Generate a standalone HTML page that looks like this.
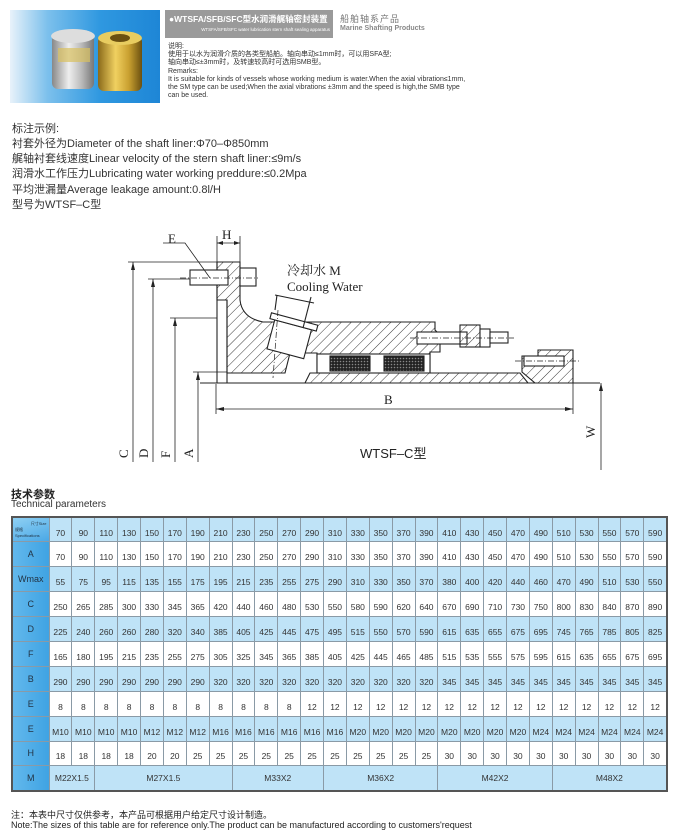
<!DOCTYPE html>
<html><head><meta charset="utf-8">
<style>
*{margin:0;padding:0;box-sizing:border-box}
body{width:680px;height:835px;background:#fff;position:relative;overflow:hidden;font-family:"Liberation Sans","Noto Sans CJK SC",sans-serif;color:#222}
.abs{position:absolute;white-space:nowrap}
.hdrimg{left:10px;top:10px;width:150px;height:93px;background:linear-gradient(90deg,#e8f2fa 0%,#7cc0ec 25%,#2f98e0 60%,#1e86d6 100%)}
.tbox{left:165px;top:10px;width:168px;height:28px;background:#9a9a9a;color:#fff}
.rem{left:168px;font-size:7px;line-height:8.2px;color:#333}
.ex{left:12px;font-size:11px;color:#333}
table{position:absolute;left:11px;top:516px;width:657px;border-collapse:collapse;border:2px solid #555;table-layout:fixed}
td{border:1px solid #8a9aa6;height:24.9px;font-size:8.5px;text-align:center;padding-top:6px;color:#333}
td.h{width:37px;background:linear-gradient(90deg,#5db5ea,#3fa4e4);font-size:9px;padding-top:0;color:#234}
tr.b td{background:#bfe3f7}
tr.b td.h,tr td.h{background:linear-gradient(90deg,#62b8ec,#3fa3e3)}
</style></head><body>

<div class="abs hdrimg">
  <svg width="150" height="93" viewBox="0 0 150 93">
    <defs>
      <linearGradient id="sv" x1="0" x2="1"><stop offset="0" stop-color="#888"/><stop offset=".4" stop-color="#eee"/><stop offset=".7" stop-color="#bbb"/><stop offset="1" stop-color="#777"/></linearGradient>
      <linearGradient id="gd" x1="0" x2="1"><stop offset="0" stop-color="#8a6a1a"/><stop offset=".4" stop-color="#f0d060"/><stop offset=".7" stop-color="#c9a030"/><stop offset="1" stop-color="#6b5010"/></linearGradient>
    </defs>
    <rect x="42" y="24" width="42" height="55" rx="6" fill="url(#sv)"/>
    <ellipse cx="63" cy="26" rx="22" ry="7" fill="#ddd"/>
    <rect x="48" y="38" width="32" height="14" fill="#d8c060" opacity=".7"/>
    <rect x="88" y="26" width="44" height="55" rx="6" fill="url(#gd)"/>
    <ellipse cx="110" cy="28" rx="22" ry="7" fill="#e8cc60"/>
    <ellipse cx="110" cy="28" rx="10" ry="4" fill="#6b5010"/>
  </svg>
</div>
<div class="abs tbox"><div style="position:absolute;left:4px;top:3px;font-size:8.5px;font-weight:bold">●WTSFA/SFB/SFC型水润滑艉轴密封装置</div><div style="position:absolute;right:3px;top:17px;font-size:4.5px">WTSFA/SFB/SFC water lubrication stern shaft sealing apparatus</div></div>
<div class="abs" style="left:340px;top:12px;font-size:9px;color:#777;letter-spacing:1px">船舶轴系产品</div>
<div class="abs" style="left:340px;top:25px;font-size:7px;color:#888;font-weight:bold">Marine Shafting Products</div>
<div class="abs rem" style="top:43px">说明:<br>使用于以水为润滑介质的各类型船舶。轴向串动≤1mm时，可以用SFA型;<br>轴向串动≤±3mm时，及转速较高时可选用SMB型。<br>Remarks:<br>It is suitable for kinds of vessels whose working medium is water.When the axial vibration≤1mm,<br>the SM type can be used;When the axial vibration≤ ±3mm and the speed is high,the SMB type<br>can be used.</div>

<div class="abs ex" style="top:120px">标注示例:</div>
<div class="abs ex" style="top:135px">衬套外径为Diameter of the shaft liner:Φ70–Φ850mm</div>
<div class="abs ex" style="top:150px">艉轴衬套线速度Linear velocity of the stern shaft liner:≤9m/s</div>
<div class="abs ex" style="top:165px">润滑水工作压力Lubricating water working preddure:≤0.2Mpa</div>
<div class="abs ex" style="top:181px">平均泄漏量Average leakage amount:0.8l/H</div>
<div class="abs ex" style="top:196px">型号为WTSF–C型</div>

<svg class="abs" style="left:0;top:0" width="680" height="480" viewBox="0 0 680 480">
<defs>
<pattern id="ht" width="7" height="7" patternUnits="userSpaceOnUse" patternTransform="rotate(45)"><line x1="0" y1="0" x2="0" y2="7" stroke="#222" stroke-width="0.9"/></pattern>
<pattern id="dots" width="3" height="3" patternUnits="userSpaceOnUse"><rect width="3" height="3" fill="#222"/><circle cx="1.5" cy="1.5" r="0.8" fill="#888"/></pattern>
</defs>
<g stroke="#222" stroke-width="1.1" fill="none">
<!-- flange -->
<path d="M217 262 H240 V300 Q242 318 263 322 H435 V330 L440 335 V352 H430 V373 H317 V353 H290 L285 373 H227 V300 H217 Z" fill="url(#ht)"/>
<line x1="217" y1="262" x2="217" y2="383"/>
<line x1="227" y1="300" x2="227" y2="383"/>
<!-- top bolt -->
<rect x="190" y="270" width="38" height="15" fill="#fff"/>
<rect x="240" y="268" width="16" height="18" fill="#fff"/>
<line x1="180" y1="278" x2="258" y2="278" stroke-dasharray="6,2,1,2" stroke-width=".7"/>
<!-- cooling pipe -->
<g transform="rotate(15 288 340)"><rect x="270" y="324" width="38" height="30" fill="#fff"/><rect x="265" y="318" width="48" height="6" fill="#fff"/></g>
<line x1="277" y1="295" x2="275" y2="310"/><line x1="311" y1="297" x2="303" y2="328"/>
<line x1="275" y1="295" x2="314" y2="303"/>
<line x1="278" y1="310" x2="273" y2="378" stroke-dasharray="6,2,1,2" stroke-width=".7"/>
<!-- packing -->
<rect x="317" y="354" width="113" height="19" fill="#fff"/>
<rect x="330" y="356" width="40" height="15" fill="url(#dots)"/>
<rect x="384" y="356" width="40" height="15" fill="url(#dots)"/>
<!-- sleeve -->
<path d="M310 373 H520 L528 383 H305 Z" fill="url(#ht)"/>
<line x1="200" y1="383" x2="600" y2="383"/>
<!-- right bolt -->
<rect x="417" y="332" width="50" height="12" fill="#fff"/>
<rect x="460" y="325" width="20" height="22" fill="url(#ht)"/>
<rect x="480" y="329" width="10" height="18" fill="#fff"/>
<rect x="490" y="332" width="18" height="11" fill="#fff"/>
<line x1="410" y1="338" x2="514" y2="338" stroke-dasharray="6,2,1,2" stroke-width=".7"/>
<!-- end ring -->
<path d="M522 356 H538 V350 H573 V383 H535 L522 372 Z" fill="url(#ht)"/>
<rect x="524" y="356" width="40" height="10" fill="#fff"/>
<line x1="515" y1="361" x2="580" y2="361" stroke-dasharray="6,2,1,2" stroke-width=".7"/>
<!-- dimensions -->
<g stroke-width=".8">
<line x1="128" y1="262" x2="217" y2="262"/><line x1="133" y1="262" x2="133" y2="462"/>
<line x1="148" y1="279" x2="190" y2="279"/><line x1="153" y1="279" x2="153" y2="462"/>
<line x1="170" y1="318" x2="217" y2="318"/><line x1="175" y1="318" x2="175" y2="462"/>
<line x1="193" y1="372" x2="227" y2="372"/><line x1="198" y1="372" x2="198" y2="462"/>
<line x1="216" y1="384" x2="216" y2="414"/><line x1="573" y1="383" x2="573" y2="414"/>
<line x1="216" y1="409" x2="573" y2="409"/>
<line x1="601" y1="383" x2="601" y2="470"/>
<line x1="217" y1="243" x2="240" y2="243"/><line x1="217" y1="236" x2="217" y2="262"/><line x1="240" y1="236" x2="240" y2="262"/>
<polyline points="163,243 185,243 210,278"/>
</g>
</g>
<g fill="#222">
<path d="M133 262 l-2 8 h4z M153 279 l-2 8 h4z M175 318 l-2 8 h4z M198 372 l-2 8 h4z M601 383 l-2 8 h4z"/>
<path d="M216 409 l8 -2 v4z M573 409 l-8 -2 v4z M217 243 l6 -2 v4z M240 243 l-6 -2 v4z"/>
</g>
<g font-family="Liberation Serif,Noto Serif CJK SC,serif" font-size="13" fill="#222">
<text x="168" y="243">E</text><text x="222" y="239">H</text>
<text x="287" y="275">冷却水 M</text><text x="287" y="291">Cooling Water</text>
<text x="384" y="404">B</text>
<text transform="translate(128 458) rotate(-90)">C</text>
<text transform="translate(148 458) rotate(-90)">D</text>
<text transform="translate(170 458) rotate(-90)">F</text>
<text transform="translate(193 458) rotate(-90)">A</text>
<text transform="translate(595 438) rotate(-90)">W</text>
</g>
<text x="360" y="458" font-family="Liberation Sans,Noto Sans CJK SC,sans-serif" font-size="13" fill="#222">WTSF–C型</text>
</svg>

<div class="abs" style="left:11px;top:486px;font-size:11px;font-weight:bold;color:#222">技术参数</div>
<div class="abs" style="left:11px;top:499px;font-size:10px;color:#333">Technical parameters</div>

<table>
<tr class="b"><td class="h" style="font-size:4px;text-align:left;padding:0 2px;background:linear-gradient(160deg,#8fd0f3,#4aa8e6)"><div style="text-align:right">尺寸Size</div>规格<br>Specifications</td><td>70</td><td>90</td><td>110</td><td>130</td><td>150</td><td>170</td><td>190</td><td>210</td><td>230</td><td>250</td><td>270</td><td>290</td><td>310</td><td>330</td><td>350</td><td>370</td><td>390</td><td>410</td><td>430</td><td>450</td><td>470</td><td>490</td><td>510</td><td>530</td><td>550</td><td>570</td><td>590</td></tr>
<tr><td class="h">A</td><td>70</td><td>90</td><td>110</td><td>130</td><td>150</td><td>170</td><td>190</td><td>210</td><td>230</td><td>250</td><td>270</td><td>290</td><td>310</td><td>330</td><td>350</td><td>370</td><td>390</td><td>410</td><td>430</td><td>450</td><td>470</td><td>490</td><td>510</td><td>530</td><td>550</td><td>570</td><td>590</td></tr>
<tr class="b"><td class="h">Wmax</td><td>55</td><td>75</td><td>95</td><td>115</td><td>135</td><td>155</td><td>175</td><td>195</td><td>215</td><td>235</td><td>255</td><td>275</td><td>290</td><td>310</td><td>330</td><td>350</td><td>370</td><td>380</td><td>400</td><td>420</td><td>440</td><td>460</td><td>470</td><td>490</td><td>510</td><td>530</td><td>550</td></tr>
<tr><td class="h">C</td><td>250</td><td>265</td><td>285</td><td>300</td><td>330</td><td>345</td><td>365</td><td>420</td><td>440</td><td>460</td><td>480</td><td>530</td><td>550</td><td>580</td><td>590</td><td>620</td><td>640</td><td>670</td><td>690</td><td>710</td><td>730</td><td>750</td><td>800</td><td>830</td><td>840</td><td>870</td><td>890</td></tr>
<tr class="b"><td class="h">D</td><td>225</td><td>240</td><td>260</td><td>260</td><td>280</td><td>320</td><td>340</td><td>385</td><td>405</td><td>425</td><td>445</td><td>475</td><td>495</td><td>515</td><td>550</td><td>570</td><td>590</td><td>615</td><td>635</td><td>655</td><td>675</td><td>695</td><td>745</td><td>765</td><td>785</td><td>805</td><td>825</td></tr>
<tr><td class="h">F</td><td>165</td><td>180</td><td>195</td><td>215</td><td>235</td><td>255</td><td>275</td><td>305</td><td>325</td><td>345</td><td>365</td><td>385</td><td>405</td><td>425</td><td>445</td><td>465</td><td>485</td><td>515</td><td>535</td><td>555</td><td>575</td><td>595</td><td>615</td><td>635</td><td>655</td><td>675</td><td>695</td></tr>
<tr class="b"><td class="h">B</td><td>290</td><td>290</td><td>290</td><td>290</td><td>290</td><td>290</td><td>290</td><td>320</td><td>320</td><td>320</td><td>320</td><td>320</td><td>320</td><td>320</td><td>320</td><td>320</td><td>320</td><td>345</td><td>345</td><td>345</td><td>345</td><td>345</td><td>345</td><td>345</td><td>345</td><td>345</td><td>345</td></tr>
<tr><td class="h">E</td><td>8</td><td>8</td><td>8</td><td>8</td><td>8</td><td>8</td><td>8</td><td>8</td><td>8</td><td>8</td><td>8</td><td>12</td><td>12</td><td>12</td><td>12</td><td>12</td><td>12</td><td>12</td><td>12</td><td>12</td><td>12</td><td>12</td><td>12</td><td>12</td><td>12</td><td>12</td><td>12</td></tr>
<tr class="b"><td class="h">E</td><td>M10</td><td>M10</td><td>M10</td><td>M10</td><td>M12</td><td>M12</td><td>M12</td><td>M16</td><td>M16</td><td>M16</td><td>M16</td><td>M16</td><td>M16</td><td>M20</td><td>M20</td><td>M20</td><td>M20</td><td>M20</td><td>M20</td><td>M20</td><td>M20</td><td>M24</td><td>M24</td><td>M24</td><td>M24</td><td>M24</td><td>M24</td></tr>
<tr><td class="h">H</td><td>18</td><td>18</td><td>18</td><td>18</td><td>20</td><td>20</td><td>25</td><td>25</td><td>25</td><td>25</td><td>25</td><td>25</td><td>25</td><td>25</td><td>25</td><td>25</td><td>25</td><td>30</td><td>30</td><td>30</td><td>30</td><td>30</td><td>30</td><td>30</td><td>30</td><td>30</td><td>30</td></tr>
<tr class="b"><td class="h">M</td><td colspan="2" style="padding-top:0">M22X1.5</td><td colspan="6" style="padding-top:0">M27X1.5</td><td colspan="4" style="padding-top:0">M33X2</td><td colspan="5" style="padding-top:0">M36X2</td><td colspan="5" style="padding-top:0">M42X2</td><td colspan="5" style="padding-top:0">M48X2</td></tr>
</table>

<div class="abs" style="left:11px;top:808px;font-size:9px;color:#222">注：本表中尺寸仅供参考，本产品可根据用户给定尺寸设计制造。</div>
<div class="abs" style="left:11px;top:820px;font-size:9px;color:#222">Note:The sizes of this table are for reference only.The product can be manufactured according to customers'request</div>
</body></html>
